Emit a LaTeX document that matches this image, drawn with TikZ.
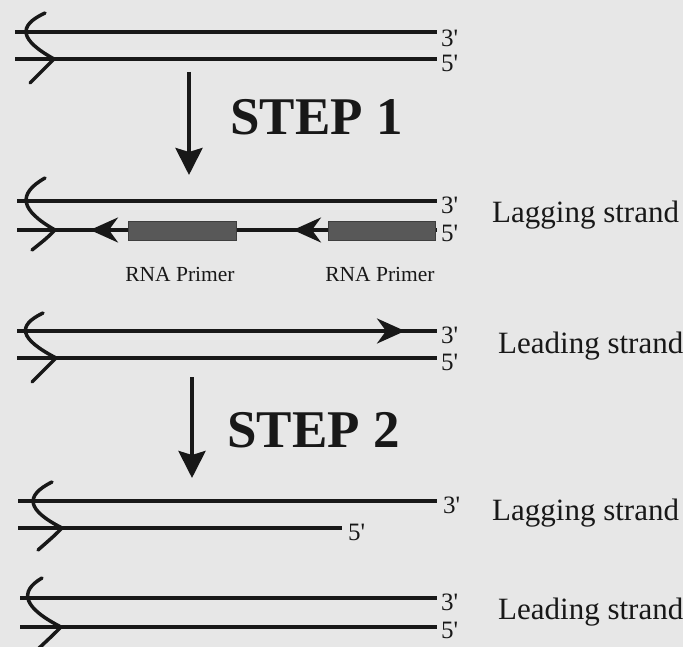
\documentclass[tikz,border=0pt]{standalone}
\usepackage{fontspec}
\setmainfont{Liberation Serif}
\usetikzlibrary{arrows.meta}
\definecolor{bg}{RGB}{231,231,231}
\definecolor{ink}{RGB}{24,24,24}
\definecolor{primer}{RGB}{88,88,88}
\tikzset{
  strand/.style={draw=ink, line width=3.5pt},
  fork/.style={draw=ink, line width=3.5pt, line cap=round},
  strandarrow/.style={draw=ink, line width=3.5pt, -{Stealth[length=28pt,width=25pt,inset=9pt]}},
  steparrow/.style={draw=ink, line width=4pt, -{Stealth[length=27pt,width=27pt,inset=4pt]}},
  primerbox/.style={fill=primer, draw=primer!70!black, line width=0.8pt, inner sep=0pt, minimum height=19pt},
  endlabel/.style={anchor=west, inner sep=0pt, font=\fontsize{25}{25}\selectfont, text=ink},
  strandlabel/.style={anchor=west, inner sep=0pt, font=\fontsize{31}{31}\selectfont, text=ink},
  primerlabel/.style={inner sep=0pt, font=\fontsize{21.5}{21.5}\selectfont, text=ink},
  steplabel/.style={anchor=west, inner sep=0pt, font=\fontsize{53}{53}\selectfont\bfseries, text=ink}
}
\begin{document}
\begin{tikzpicture}[x=1pt,y=-1pt]
\useasboundingbox (0,0) rectangle (683,647);
\fill[bg] (0,0) rectangle (683,647);

% ---------- Group 1 ----------
\coordinate (a1) at (15,32); \coordinate (a2) at (437,32);
\coordinate (b1) at (15,59); \coordinate (b2) at (437,59);
\draw[strand] (a1) -- (a2);
\draw[strand] (b1) -- (b2);
\coordinate (fa) at (45,13); \coordinate (fb) at (54,59); \coordinate (fc) at (30,83);
\draw[fork] (fa) .. controls (17,26) and (20,40) .. (fb) .. controls (46,67) .. (fc);
\node[endlabel] (a3) at (441,38) {3\textquotesingle};
\node[endlabel] (a5) at (441,63) {5\textquotesingle};

% ---------- Step 1 ----------
\coordinate (s1a) at (189,72); \coordinate (s1b) at (189,175);
\draw[steparrow] (s1a) -- (s1b);
\node[steplabel] (step1) at (230,117) {STEP 1};

% ---------- Group 2 ----------
\coordinate (c1) at (17,201); \coordinate (c2) at (437,201);
\coordinate (d1) at (17,230); \coordinate (d2) at (437,230);
\draw[strand] (c1) -- (c2);
\draw[strand] (d1) -- (d2);
\coordinate (ga) at (45,178); \coordinate (gb) at (55,230); \coordinate (gc) at (32,250);
\draw[fork] (ga) .. controls (17,194) and (20,210) .. (gb) .. controls (47,238) .. (gc);
\node[primerbox, minimum width=108pt] (p1) at (182,231) {};
\node[primerbox, minimum width=107pt] (p2) at (381.5,230.5) {};
\coordinate (r1) at (p1.west); \coordinate (r1t) at (90,230);
\coordinate (r2) at (p2.west); \coordinate (r2t) at (293,230);
\draw[strandarrow] (r1 |- d1) -- (r1t);
\draw[strandarrow] (r2 |- d1) -- (r2t);
\node[endlabel] (c3) at (441,205) {3\textquotesingle};
\node[endlabel] (d5) at (441,233) {5\textquotesingle};
\node[strandlabel] (lag1) at (492,215) {Lagging strand};
\node[primerlabel] (pl1) at (180,274) {RNA Primer};
\node[primerlabel] (pl2) at (380,274) {RNA Primer};

% ---------- Group 3 ----------
\coordinate (e1) at (17,331); \coordinate (e2) at (437,331);
\coordinate (f1) at (17,358); \coordinate (f2) at (437,358);
\draw[strand] (e1) -- (e2);
\draw[strand] (f1) -- (f2);
\coordinate (ha) at (43,313); \coordinate (hb) at (56,358); \coordinate (hc) at (32,382);
\draw[fork] (ha) .. controls (16,326) and (20,339) .. (hb) .. controls (48,366) .. (hc);
\coordinate (q1) at (365,331); \coordinate (q1t) at (405,331);
\draw[strandarrow] (q1) -- (q1t);
\node[endlabel] (e3) at (441,335) {3\textquotesingle};
\node[endlabel] (f5) at (441,362) {5\textquotesingle};
\node[strandlabel] (lead1) at (498,346) {Leading strand};

% ---------- Step 2 ----------
\coordinate (s2a) at (192,377); \coordinate (s2b) at (192,478);
\draw[steparrow] (s2a) -- (s2b);
\node[steplabel] (step2) at (227,430) {STEP 2};

% ---------- Group 4 ----------
\coordinate (i1) at (18,501); \coordinate (i2) at (437,501);
\coordinate (j1) at (18,528); \coordinate (j2) at (342,528);
\draw[strand] (i1) -- (i2);
\draw[strand] (j1) -- (j2);
\coordinate (ka) at (52,482); \coordinate (kb) at (62,528); \coordinate (kc) at (38,550);
\draw[fork] (ka) .. controls (24,496) and (27,510) .. (kb) .. controls (54,536) .. (kc);
\node[endlabel] (i3) at (443,505) {3\textquotesingle};
\node[endlabel] (j5) at (348,532) {5\textquotesingle};
\node[strandlabel] (lag2) at (492,513) {Lagging strand};

% ---------- Group 5 ----------
\coordinate (m1) at (20,598); \coordinate (m2) at (437,598);
\coordinate (n1) at (20,627); \coordinate (n2) at (437,627);
\draw[strand] (m1) -- (m2);
\draw[strand] (n1) -- (n2);
\coordinate (oa) at (42,578); \coordinate (ob) at (61,627); \coordinate (oc) at (37,650);
\draw[fork] (oa) .. controls (18,592) and (24,608) .. (ob) .. controls (53,635) .. (oc);
\node[endlabel] (m3) at (441,602) {3\textquotesingle};
\node[endlabel] (n5) at (441,630) {5\textquotesingle};
\node[strandlabel] (lead2) at (498,612) {Leading strand};
\end{tikzpicture}
\end{document}
